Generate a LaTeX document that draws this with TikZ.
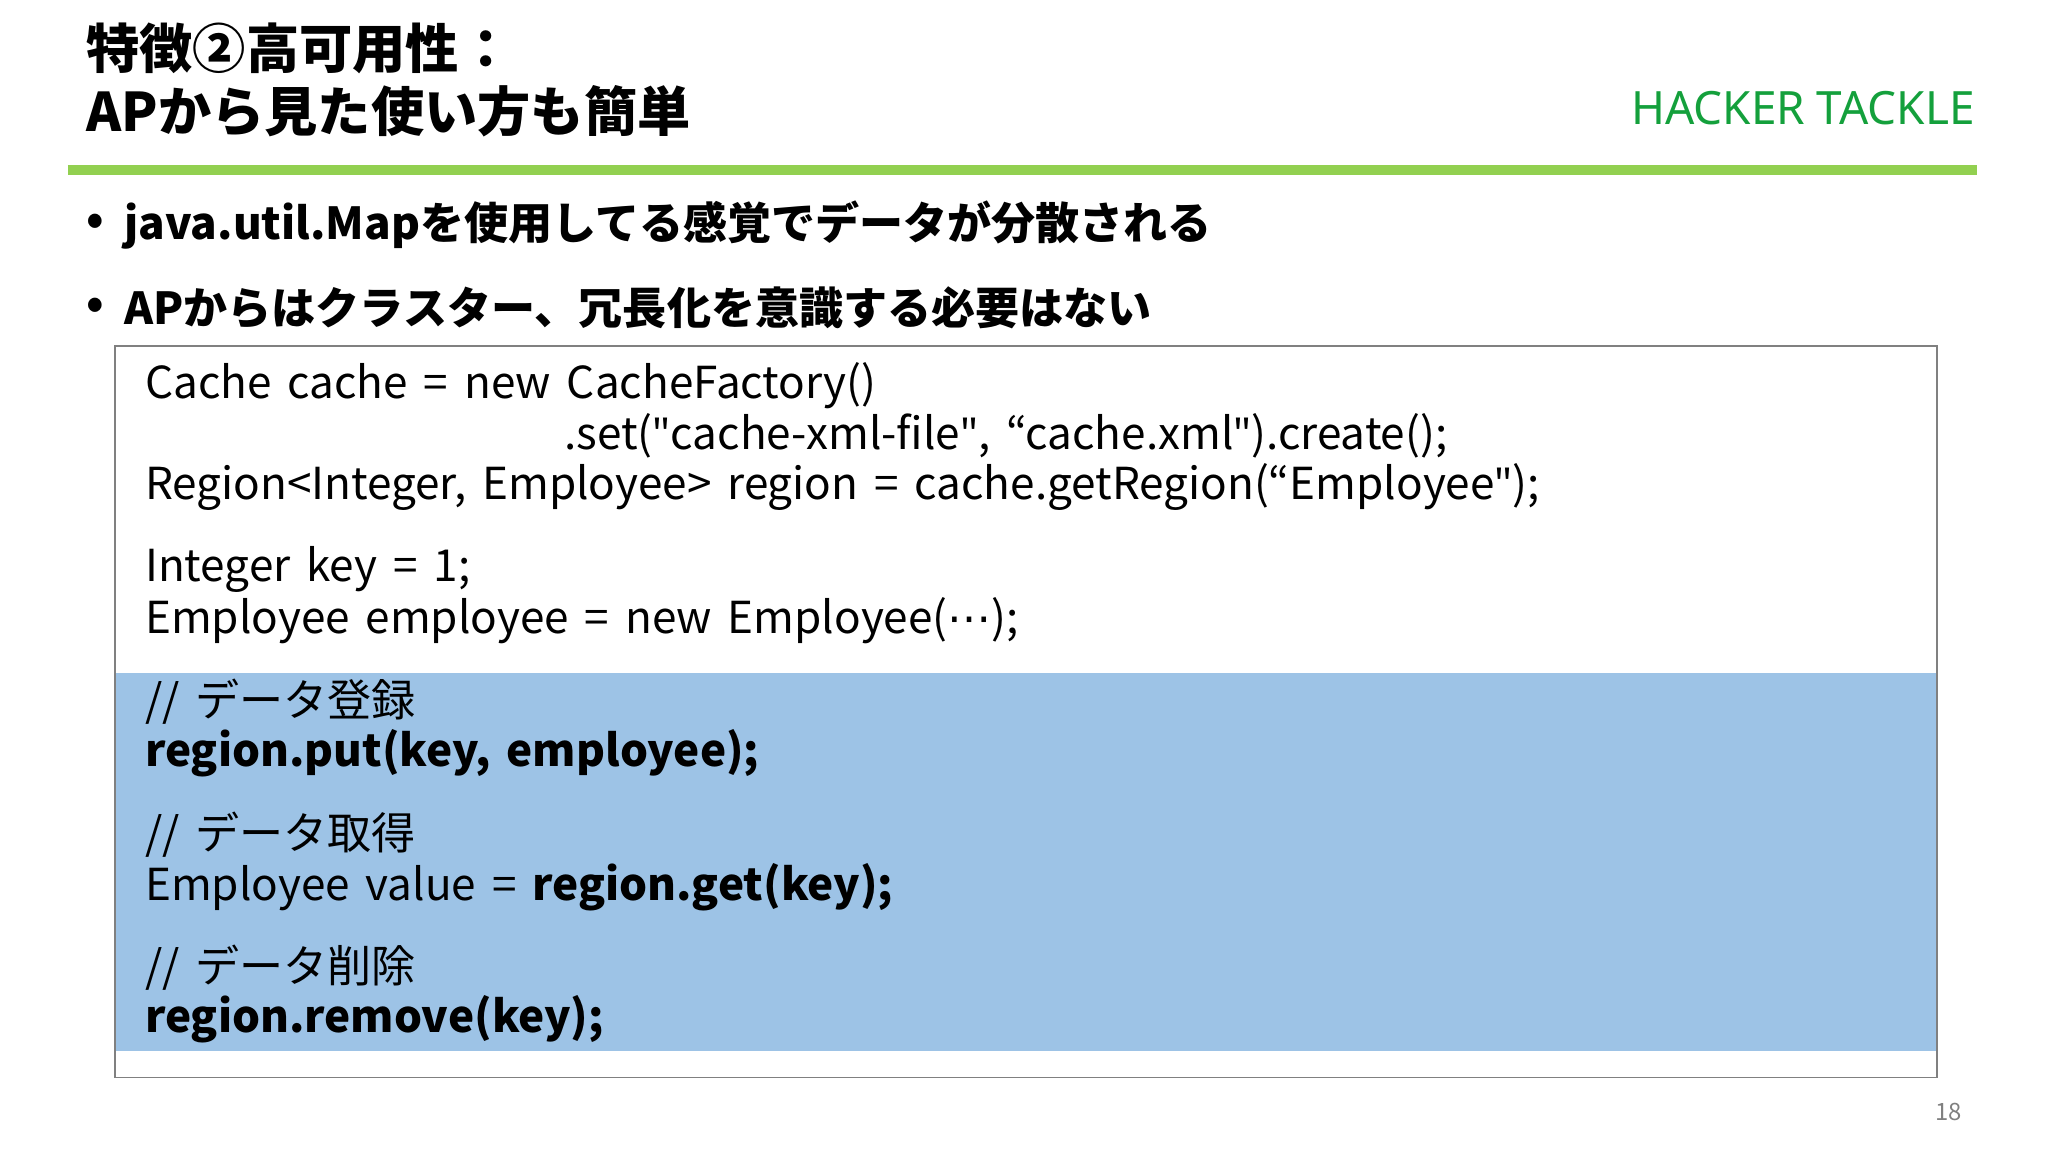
\documentclass[tikz,border=0pt]{standalone}
\usepackage{fontspec}
\setmainfont{Noto Sans CJK JP}
\newfontfamily\hk{Noto Sans}
\newfontfamily\djvfont{DejaVu Sans}
\definecolor{hgreen}{RGB}{146,208,80}
\definecolor{logo}{RGB}{20,160,60}
\definecolor{blueband}{RGB}{157,195,230}
\newcommand{\dq}{{\hk\symbol{34}}}
\newcommand{\codefont}{\fontsize{48}{50}\selectfont\spaceskip=0.36em\relax}
\begin{document}
\begin{tikzpicture}[x=0.05cm,y=-0.05cm,
  title/.style={anchor=west,inner sep=0,font=\fontsize{58}{60}\selectfont\bfseries},
  bul/.style={anchor=west,inner sep=0,font=\fontsize{48}{50}\selectfont\bfseries},
  code/.style={anchor=west,inner sep=0,font=\codefont}]
\useasboundingbox (0,0) rectangle (1568,882);
\node[title] (t1) at (66,37) {特徴②高可用性：};
\node[title] (t2) at (66,85) {APから見た使い方も簡単};
\node[anchor=east,inner sep=0,text=logo,font=\hk\fontsize{50}{52}\selectfont] (logo) at (1512,83) {HACKER TACKLE};
\draw[hgreen,line width=0.4cm] (52,130) -- (1514,130);
\node[bul] (d1) at (66,172) {•};
\node[bul] (b1) at (95,172) {java.util.Mapを使用してる感覚でデータが分散される};
\node[bul] (d2) at (66,236) {•};
\node[bul] (b2) at (95,236) {APからはクラスター、冗長化を意識する必要はない};
\fill[blueband] (88,515) rectangle (1483,805);
\draw[gray,line width=1.5pt] (88,265) rectangle (1483,825);
\node[code] (c1) at (111,295) {Cache cache = new CacheFactory()};
\node[code] (c2) at (432,334) {.set(\dq cache-xml-file\dq, “cache.xml\dq).create();};
\node[code] (c3) at (111,373) {Region<Integer, Employee> region = cache.getRegion(“Employee\dq);};
\node[code] (c4) at (111,436) {Integer key = 1;};
\node[code] (c5) at (111,475) {Employee employee = new Employee({\djvfont ⋯});};
\node[code] (c6) at (111,537) {// データ登録};
\node[code] (c7) at (111,577) {\bfseries region.put(key, employee);};
\node[code] (c8) at (111,639) {// データ取得};
\node[code] (c9) at (111,679) {Employee value = \bfseries region.get(key);};
\node[code] (c10) at (111,741) {// データ削除};
\node[code] (c11) at (111,780) {\bfseries region.remove(key);};
\node[anchor=east,inner sep=0,text=gray,font=\fontsize{26}{28}\selectfont] (pg) at (1502,851) {18};
\end{tikzpicture}
\end{document}
